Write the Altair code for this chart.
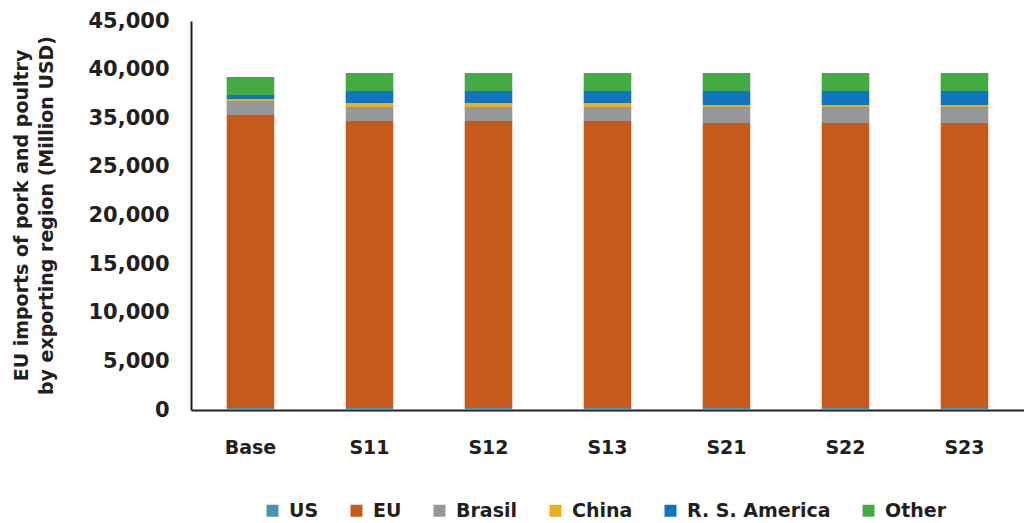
import altair as alt
import pandas as pd

scenarios = ["Base", "S11", "S12", "S13", "S21", "S22", "S23"]
regions = ["US", "EU", "Brasil", "China", "R. S. America", "Other"]
colors = ["#4A92AD", "#C65A1A", "#96979A", "#E8B01E", "#1174BE", "#44AA44"]

# values in the drawn scale units (million USD)
us = [200, 200, 200, 200, 200, 200, 200]
eu = [30130, 29520, 29520, 29520, 29310, 29310, 29310]
brasil = [1440, 1440, 1440, 1440, 1645, 1645, 1645]
china = [205, 410, 410, 410, 205, 205, 205]
rsa = [410, 1235, 1235, 1235, 1440, 1440, 1440]
other = [1850, 1850, 1850, 1850, 1850, 1850, 1850]

# y tick values and the labels shown for them in the reference
tick_values = [0, 5000, 10000, 15000, 20000, 25000, 30000, 35000, 40000]
tick_labels = ["0", "5,000", "10,000", "15,000", "20,000", "25,000", "35,000", "40,000", "45,000"]

series = [us, eu, brasil, china, rsa, other]
rows = []
for i, s in enumerate(scenarios):
    for j, (r, vals) in enumerate(zip(regions, series)):
        rows.append({"scenario": s, "region": r, "value": vals[i], "order": j})
df = pd.DataFrame(rows)

font = "DejaVu Sans"
ink = "#231f20"

label_map = "{" + ",".join(f"'{v}':'{l}'" for v, l in zip(tick_values, tick_labels)) + "}"
label_expr = f"{label_map}[toString(datum.value)]"

chart = alt.Chart(df).mark_bar().encode(
    x=alt.X(
        "scenario:N",
        sort=scenarios,
        scale=alt.Scale(paddingInner=0.6, paddingOuter=0.3),
        axis=alt.Axis(
            title=None, labelAngle=0, ticks=False, labelPadding=28,
            domainColor=ink, domainWidth=2,
            labelFont=font, labelFontWeight="bold", labelFontSize=19, labelColor=ink,
        ),
    ),
    y=alt.Y(
        "value:Q",
        stack="zero",
        scale=alt.Scale(domain=[0, 40000], nice=False),
        axis=alt.Axis(
            values=tick_values, labelExpr=label_expr,
            grid=False, ticks=False, labelPadding=22,
            domainColor=ink, domainWidth=2,
            labelFont=font, labelFontWeight="bold", labelFontSize=21, labelColor=ink,
            title=["EU imports of pork and poultry", "by exporting region (Million USD)"],
            titleFont=font, titleFontWeight="bold", titleFontSize=19, titleColor=ink,
            titleX=-170, titleY=194, titleAngle=270, titleBaseline="middle",
            titleAlign="center", titleLineHeight=25,
        ),
    ),
    color=alt.Color(
        "region:N",
        sort=regions,
        scale=alt.Scale(domain=regions, range=colors),
        legend=alt.Legend(
            title=None, orient="none", direction="horizontal",
            legendX=72, legendY=480, padding=0,
            symbolType="square", symbolSize=144, symbolStrokeWidth=0, symbolOpacity=1,
            labelFont=font, labelFontWeight="bold", labelFontSize=19, labelColor=ink,
            labelOffset=7, columnPadding=28,
        ),
    ),
    order=alt.Order("order:Q", sort="ascending"),
).properties(
    width=833,
    height=389,
    padding={"left": 191, "top": 21, "right": 0, "bottom": 113},
    autosize="none",
).configure_view(stroke=None)

chart.save("out.html", embed_options={"renderer": "svg", "actions": False})
